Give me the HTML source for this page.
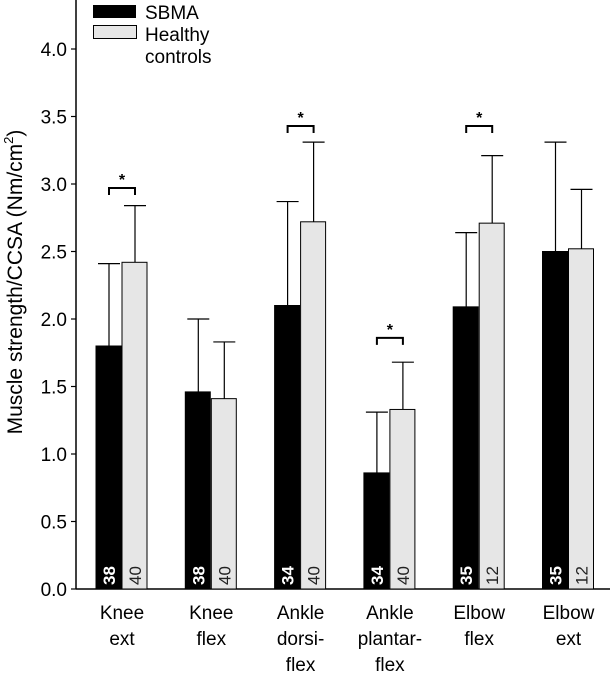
<!DOCTYPE html>
<html><head><meta charset="utf-8"><style>
body{margin:0;background:#fff;}
svg text{font-family:"Liberation Sans",Arial,sans-serif;}
</style></head><body>
<svg id="chart" width="610" height="671">
<g id="g"></g>
</svg>
<script>
const categories=[["Knee","ext"],["Knee","flex"],["Ankle","dorsi-","flex"],["Ankle","plantar-","flex"],["Elbow","flex"],["Elbow","ext"]];
const sbma=[1.80,1.46,2.10,0.86,2.09,2.50];
const sbmaErr=[2.41,2.00,2.87,1.31,2.64,3.31];
const ctrl=[2.42,1.41,2.72,1.33,2.71,2.52];
const ctrlErr=[2.84,1.83,3.31,1.68,3.21,2.96];
const nSbma=["38","38","34","34","35","35"];
const nCtrl=["40","40","40","40","12","12"];
const sigY=[2.97,null,3.43,1.86,3.43,null];
const yTicks=[0,0.5,1.0,1.5,2.0,2.5,3.0,3.5,4.0];
const NS="http://www.w3.org/2000/svg";
const g=document.getElementById('g');
const y=v=>589-v*135;
const x0=i=>96+i*89.3;
const bw=26;
function el(t,a,txt){const e=document.createElementNS(NS,t);for(const k in a)e.setAttribute(k,a[k]);if(txt!=null)e.textContent=txt;g.appendChild(e);return e;}
let e;
e=el('line',{x1:76,y1:0,x2:76,y2:589,stroke:'#000','stroke-width':1.5});


e=el('line',{x1:76,y1:589,x2:610,y2:589,stroke:'#000','stroke-width':1.5});


yTicks.forEach(t=>{
 e=el('line',{x1:71,x2:76,y1:y(t),y2:y(t),stroke:'#000','stroke-width':1.2});
 
 
 e=el('text',{x:67,y:y(t)+7,'text-anchor':'end','font-size':19},t.toFixed(1));
 
 
});
e=el('text',{x:0,y:0,'font-size':21,'text-anchor':'middle',transform:'translate(22,282) rotate(-90)'},'');
e.innerHTML='Muscle strength/CCSA (Nm/cm<tspan dy="-9" font-size="13">2</tspan><tspan dy="9">)</tspan>';


function bar(xl,v,ev,fill,n,tc,nm){
 const cx=xl+bw/2;
 e=el('line',{x1:cx,x2:cx,y1:y(v),y2:y(ev),stroke:'#000','stroke-width':1.2});
 
 
 e=el('line',{x1:cx-11,x2:cx+11,y1:y(ev),y2:y(ev),stroke:'#000','stroke-width':1.2});
 
 
 e=el('rect',{x:xl,y:y(v),width:bw-1,height:589-y(v),fill:fill,stroke:'#000','stroke-width':1});
 
 
 e=el('text',{x:0,y:0,'font-size':17,fill:tc,'font-weight':tc=='#fff'?'bold':'normal',transform:`translate(${cx+6},585) rotate(-90)`},n);
 
 
}
categories.forEach((c,i)=>{
 const xl=x0(i);
 bar(xl,sbma[i],sbmaErr[i],'#000',nSbma[i],'#fff','sbma');
 bar(xl+bw,ctrl[i],ctrlErr[i],'#e6e6e6',nCtrl[i],'#222','control');
 const cx=xl+bw;
 c.forEach((l,j)=>{
  e=el('text',{x:cx,y:619+j*26,'text-anchor':'middle','font-size':19},l);
  
  
 });
 if(sigY[i]!=null){
  const a=xl+bw/2,b=xl+bw*1.5,yy=y(sigY[i]);
  e=el('path',{d:`M${a} ${yy+7}V${yy}H${b}V${yy+7}`,fill:'none',stroke:'#000','stroke-width':2});
  
  
  e=el('text',{x:(a+b)/2,y:yy-3,'text-anchor':'middle','font-size':16,'font-weight':'bold'},'*');
  
  
 }
});
e=el('rect',{x:93,y:5,width:43,height:13,fill:'#000'});


e=el('text',{x:145,y:19,'font-size':19},'SBMA');


e=el('rect',{x:93.5,y:25.5,width:43,height:13,fill:'#e6e6e6',stroke:'#000'});


e=el('text',{x:145,y:41,'font-size':19},'Healthy');


e=el('text',{x:145,y:63,'font-size':19},'controls');


</script>
</body></html>
